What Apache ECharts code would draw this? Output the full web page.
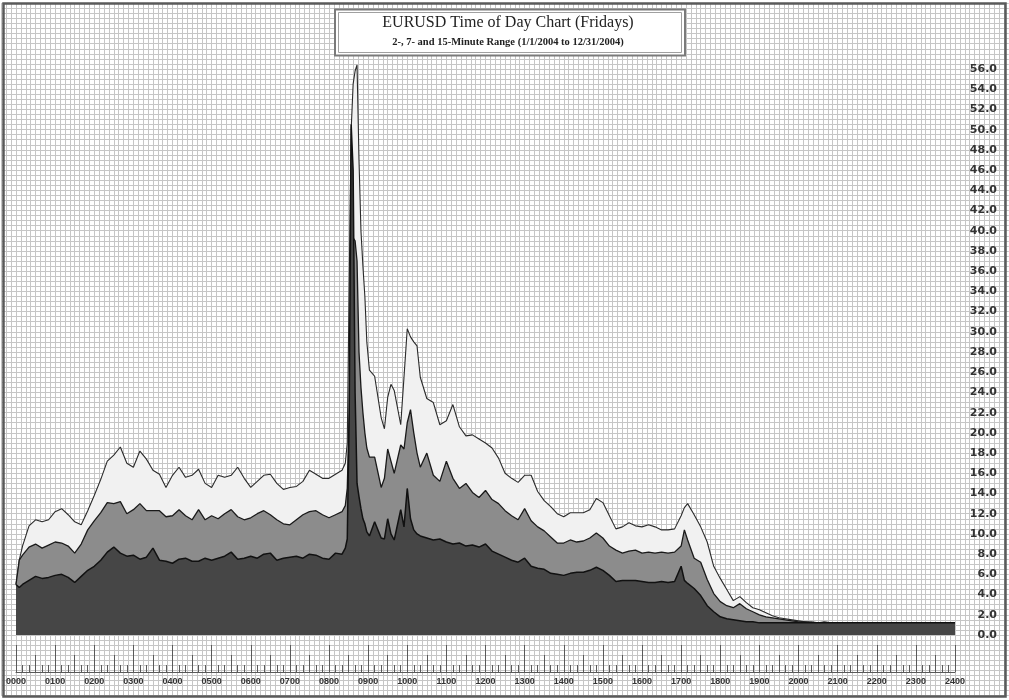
<!DOCTYPE html>
<html>
<head>
<meta charset="utf-8">
<script src="https://cdn.jsdelivr.net/npm/echarts@6/dist/echarts.min.js"></script>
<style>
html,body{margin:0;padding:0;background:#ffffff;}
#chart{width:1009px;height:700px;}
</style>
</head>
<body>
<div id="chart"></div>
<script>
// Time of day in minutes after 00:00
const times = [
  0, 5, 10, 20, 30, 40, 50, 60, 70, 80, 90, 100, 110, 120, 130, 140, 150, 160, 170, 180, 190, 200,
  210, 220, 230, 240, 250, 260, 270, 280, 290, 300, 310, 320, 330, 340, 350, 360, 370, 380, 390, 400,
  410, 420, 430, 440, 450, 460, 470, 480, 490, 500,
  505, 508, 511, 514, 517, 520, 523, 526, 529, 532, 535, 538, 542,
  550, 560, 565, 570, 575, 580, 590, 595, 600, 605, 610, 615, 620,
  630, 640, 650, 660, 670, 680, 690, 700, 710, 720, 730, 740, 750, 760, 770, 780, 790, 800, 810, 820,
  830, 840, 850, 860, 870, 880, 890, 900, 910, 920, 930, 940, 950, 960, 970, 980, 990, 1000, 1010, 1020,
  1025,
  1030, 1040, 1050, 1060, 1070, 1080, 1090, 1100, 1110, 1120, 1130, 1140, 1150, 1160, 1170, 1180, 1190,
  1200, 1210, 1220, 1230, 1240, 1250, 1260, 1270, 1280, 1290, 1300, 1310, 1320, 1330, 1340, 1350, 1360,
  1370, 1380, 1390, 1400, 1410, 1420, 1430, 1440
];

// 15-minute range (light area)
const range15 = [
  5.0, 7.4, 8.8, 10.8, 11.4, 11.2, 11.4, 12.2, 12.5, 11.9, 11.2, 10.9, 12.3, 13.8, 15.4, 17.2, 17.8, 18.6, 17.0, 16.6, 18.2, 17.4,
  16.3, 15.9, 14.6, 15.8, 16.6, 15.6, 15.8, 16.4, 15.0, 14.6, 15.8, 15.6, 15.8, 16.6, 15.5, 14.6, 15.2, 15.8, 15.9, 15.0,
  14.4, 14.6, 14.7, 15.2, 16.3, 15.9, 15.5, 15.5, 15.9, 16.3,
  17.0, 19.0, 35.0, 50.0, 54.5, 55.8, 56.4, 47.0, 40.0, 36.5, 33.5, 29.0, 26.2,
  25.6, 21.5, 20.4, 23.5, 24.8, 24.2, 20.8, 25.5, 30.3, 29.5, 29.0, 28.6, 25.5,
  23.4, 23.0, 20.8, 21.2, 22.8, 20.6, 19.7, 19.8, 19.4, 19.0, 18.5, 17.5, 16.0, 15.5, 15.1, 15.8, 15.8, 14.2, 13.3, 12.7,
  12.0, 11.7, 12.1, 12.1, 12.1, 12.4, 13.5, 13.1, 11.8, 10.5, 10.7, 11.1, 10.8, 10.7, 10.9, 10.7, 10.4, 10.4, 10.5, 11.8,
  12.6,
  13.0, 11.9, 10.7, 9.2, 6.8, 5.6, 4.5, 3.4, 3.8, 3.2, 2.7, 2.5, 2.2, 1.9, 1.7, 1.6, 1.5,
  1.4, 1.3, 1.3, 1.2, 1.3, 1.2, 1.2, 1.2, 1.2, 1.2, 1.2, 1.2, 1.2, 1.2, 1.2, 1.2, 1.2,
  1.2, 1.2, 1.2, 1.2, 1.2, 1.2, 1.2, 1.2
];

// 7-minute range (mid-grey area)
const range7 = [
  5.0, 7.4, 7.9, 8.7, 9.0, 8.6, 8.9, 9.2, 9.1, 8.8, 8.1, 9.0, 10.4, 11.3, 12.1, 13.1, 13.0, 13.2, 12.0, 12.4, 13.0, 12.3,
  12.3, 12.3, 11.7, 11.8, 12.4, 11.8, 11.4, 12.4, 11.4, 11.8, 11.5, 12.0, 12.4, 11.7, 11.4, 11.6, 12.0, 12.3, 11.9, 11.4,
  11.0, 10.9, 11.4, 11.9, 12.2, 12.3, 11.9, 11.6, 11.9, 12.2,
  12.8, 14.5, 22.0, 36.0, 39.3, 39.0, 37.0, 28.0, 24.5, 22.0, 20.0, 18.5, 17.6,
  17.6, 14.6, 15.5, 18.4, 17.2, 16.0, 18.8, 18.4, 21.0, 22.3, 20.0, 18.0, 16.6,
  18.0, 15.8, 15.2, 17.2, 15.5, 14.5, 15.0, 14.1, 13.6, 14.3, 13.4, 13.0, 12.3, 11.8, 11.4, 12.5, 11.3, 10.7, 10.3, 9.7,
  9.1, 9.1, 9.4, 9.2, 9.3, 9.6, 10.1, 9.6, 8.8, 8.4, 8.1, 8.3, 8.4, 8.1, 8.2, 8.1, 8.2, 8.1, 8.2, 8.8,
  10.4,
  9.4, 7.6, 7.2, 5.5, 4.1, 3.3, 2.9, 2.7, 3.1, 2.6, 2.3, 2.0, 1.8, 1.7, 1.6, 1.5, 1.4,
  1.3, 1.3, 1.2, 1.2, 1.2, 1.2, 1.2, 1.2, 1.2, 1.2, 1.2, 1.2, 1.2, 1.2, 1.2, 1.2, 1.2,
  1.2, 1.2, 1.2, 1.2, 1.2, 1.2, 1.2, 1.2
];

// 2-minute range (dark area)
const range2 = [
  5.0, 4.7, 5.0, 5.4, 5.8, 5.6, 5.7, 5.9, 6.0, 5.7, 5.2, 5.8, 6.4, 6.8, 7.4, 8.2, 8.7, 8.1, 7.8, 7.9, 7.5, 7.7,
  8.6, 7.4, 7.3, 7.1, 7.5, 7.6, 7.3, 7.3, 7.6, 7.4, 7.6, 7.8, 8.2, 7.5, 7.6, 7.8, 7.6, 8.0, 8.1, 7.4,
  7.6, 7.7, 7.8, 7.6, 8.0, 7.9, 7.6, 7.5, 8.1, 8.0,
  8.6, 9.5, 22.0, 50.5, 46.0, 24.0, 15.0, 13.7, 12.5, 11.5, 11.0, 10.2, 9.8,
  11.2, 9.6, 9.5, 11.5, 10.0, 9.4, 12.4, 10.7, 14.5, 11.5, 10.4, 10.0, 9.8,
  9.6, 9.4, 9.5, 9.2, 9.0, 9.1, 8.8, 8.9, 8.7, 9.0, 8.3, 8.0, 7.7, 7.4, 7.2, 7.6, 6.8, 6.6, 6.5, 6.1,
  6.0, 5.9, 6.1, 6.2, 6.2, 6.4, 6.7, 6.4, 5.9, 5.3, 5.4, 5.4, 5.4, 5.3, 5.2, 5.2, 5.3, 5.2, 5.3, 6.8,
  5.4,
  5.1, 4.6, 3.9, 2.9, 2.3, 1.8, 1.6, 1.5, 1.4, 1.3, 1.3, 1.2, 1.2, 1.2, 1.2, 1.2, 1.2,
  1.2, 1.2, 1.2, 1.2, 1.2, 1.2, 1.2, 1.2, 1.2, 1.2, 1.2, 1.2, 1.2, 1.2, 1.2, 1.2, 1.2,
  1.2, 1.2, 1.2, 1.2, 1.2, 1.2, 1.2, 1.2
];

const hourLabels = ['0000','0100','0200','0300','0400','0500','0600','0700','0800','0900','1000','1100',
  '1200','1300','1400','1500','1600','1700','1800','1900','2000','2100','2200','2300','2400'];

const titleText = 'EURUSD Time of Day Chart (Fridays)';
const subTitleText = '2-, 7- and 15-Minute Range (1/1/2004 to 12/31/2004)';

function pairs(vals) { return times.map((t, i) => [t, vals[i]]); }

const chart = echarts.init(document.getElementById('chart'), null, {renderer: 'canvas'});

const tickColor = '#5a5a5a';
const hiddenAxisBits = {
  axisLine: {show: false}, axisLabel: {show: false}, axisTick: {show: false}
};

function tickAxis(interval, len, withLabels) {
  return {
    type: 'value', gridIndex: 0, min: 0, max: 1440, interval: interval, position: 'bottom', offset: 37,
    axisLine: {show: withLabels, onZero: false, lineStyle: {color: tickColor, width: 1}},
    axisTick: {show: true, inside: true, length: len, lineStyle: {color: tickColor, width: 1}},
    axisLabel: withLabels ? {
      show: true, margin: 5, color: '#333', fontFamily: 'Liberation Sans', fontWeight: 'bold', fontSize: 9,
      formatter: v => hourLabels[Math.round(v / 60)]
    } : {show: false},
    splitLine: {show: false}
  };
}

const option = {
  animation: false,
  backgroundColor: '#ffffff',
  grid: [
    {left: 16, right: 54, top: 69, bottom: 65, containLabel: false},
    {left: 1.33, right: 0.2, top: 3.3, bottom: 4.36, containLabel: false}
  ],
  xAxis: [
    tickAxis(60, 27, true),
    tickAxis(30, 17, false),
    tickAxis(10, 7, false),
    Object.assign({
      type: 'value', gridIndex: 1, min: -22.5, max: 1522.5, interval: 7.5
    }, hiddenAxisBits, {splitLine: {show: true, lineStyle: {color: '#c6c6c6', width: 1}}})
  ],
  yAxis: [
    {
      type: 'value', gridIndex: 0, min: 0, max: 56, interval: 2, position: 'right',
      axisLine: {show: false}, axisTick: {show: false}, splitLine: {show: false},
      axisLabel: {
        show: true, margin: 42, align: 'right', color: '#333', fontFamily: 'DejaVu Sans', fontWeight: 'bold', fontSize: 11,
        formatter: v => v.toFixed(1)
      }
    },
    Object.assign({
      type: 'value', gridIndex: 1, min: -6, max: 62.5, interval: 0.5
    }, hiddenAxisBits, {splitLine: {show: true, lineStyle: {color: '#c6c6c6', width: 1}}})
  ],
  series: [
    {
      name: '15-Minute Range', type: 'line', xAxisIndex: 0, yAxisIndex: 0, data: pairs(range15),
      showSymbol: false, clip: false, z: 3,
      lineStyle: {color: '#2a2a2a', width: 1.1},
      areaStyle: {color: '#f1f1f1', opacity: 1}
    },
    {
      name: '7-Minute Range', type: 'line', xAxisIndex: 0, yAxisIndex: 0, data: pairs(range7),
      showSymbol: false, clip: false, z: 4,
      lineStyle: {color: '#1a1a1a', width: 1.3},
      areaStyle: {color: '#8c8c8c', opacity: 1}
    },
    {
      name: '2-Minute Range', type: 'line', xAxisIndex: 0, yAxisIndex: 0, data: pairs(range2),
      showSymbol: false, clip: false, z: 5,
      lineStyle: {color: '#111111', width: 1.5},
      areaStyle: {color: '#464646', opacity: 1}
    }
  ],
  graphic: [
    {
      type: 'rect', z: 100, silent: true,
      shape: {x: 3.5, y: 3.5, width: 1002, height: 693},
      style: {fill: null, stroke: '#5a5a5a', lineWidth: 2.5}
    },
    {
      type: 'rect', z: 100, silent: true,
      shape: {x: 335, y: 9.5, width: 350, height: 46},
      style: {fill: '#ffffff', stroke: '#7a7a7a', lineWidth: 2}
    },
    {
      type: 'rect', z: 101, silent: true,
      shape: {x: 338.5, y: 12.5, width: 343, height: 40},
      style: {fill: null, stroke: '#a0a0a0', lineWidth: 1}
    },
    {
      type: 'text', z: 102, silent: true, x: 508, y: 23,
      style: {text: titleText, fill: '#222', font: '16px "Liberation Serif"', align: 'center', verticalAlign: 'middle'}
    },
    {
      type: 'text', z: 102, silent: true, x: 508, y: 42,
      style: {text: subTitleText, fill: '#222', font: 'bold 10.5px "Liberation Serif"', align: 'center', verticalAlign: 'middle'}
    }
  ]
};

chart.setOption(option);
</script>
</body>
</html>
